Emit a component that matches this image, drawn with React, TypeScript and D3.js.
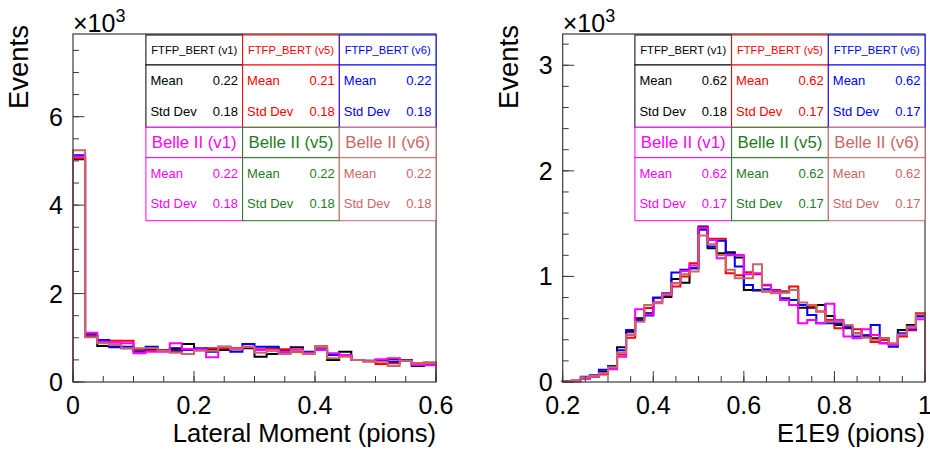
import React from 'react';
import * as d3 from 'd3';

const FONT = "'Liberation Sans', Arial, Helvetica, sans-serif";

// Series (drawing order for histograms: v1 black, v5 red, v6 blue, Belle v1 magenta, Belle v6 salmon)
const COL_BLACK = '#000000';
const COL_RED = '#ff0000';
const COL_BLUE = '#0000ff';
const COL_MAGENTA = '#ff00ff';
const COL_GREEN = '#1f7a1f';
const COL_SALMON = '#cc6666';

const FTFP_NAMES = ['FTFP_BERT (v1)', 'FTFP_BERT (v5)', 'FTFP_BERT (v6)'];
const BELLE_NAMES = ['Belle II (v1)', 'Belle II (v5)', 'Belle II (v6)'];
const FTFP_COLORS = [COL_BLACK, COL_RED, COL_BLUE];
const BELLE_COLORS = [COL_MAGENTA, COL_GREEN, COL_SALMON];

// ---- Left panel: Lateral Moment (pions), 30 bins 0..0.6
const LM_X_DOMAIN = [0, 0.6];
const LM_Y_MAX = 7870;
const LM_BIN_WIDTH = 0.02;
const LM_BLACK = [5040, 1040, 814, 798, 761, 738, 738, 723, 761, 859, 723, 723, 723, 738, 761, 573, 633, 723, 784, 663, 723, 497, 686, 497, 470, 482, 512, 490, 362, 437];
const LM_RED = [5062, 1062, 912, 934, 934, 723, 708, 723, 686, 738, 723, 761, 761, 761, 798, 738, 761, 738, 686, 633, 798, 633, 588, 497, 470, 407, 422, 482, 422, 437];
const LM_BLUE = [5130, 1085, 949, 784, 798, 686, 798, 708, 723, 723, 761, 686, 798, 686, 859, 798, 798, 686, 723, 686, 738, 610, 588, 497, 482, 497, 460, 497, 384, 384];
const LM_MAGENTA = [5100, 1115, 912, 889, 874, 648, 686, 686, 874, 738, 738, 558, 784, 738, 784, 723, 708, 686, 738, 663, 723, 648, 610, 497, 482, 512, 535, 482, 384, 377];
const LM_SALMON = [5243, 1010, 874, 836, 761, 761, 761, 708, 663, 633, 708, 708, 798, 738, 798, 663, 723, 633, 708, 633, 814, 535, 573, 497, 470, 460, 362, 482, 422, 422];
const LM_FTFP_MEAN = ['0.22', '0.21', '0.22'];
const LM_FTFP_STD = ['0.18', '0.18', '0.18'];
const LM_BELLE_MEAN = ['0.22', '0.22', '0.22'];
const LM_BELLE_STD = ['0.18', '0.18', '0.18'];
const LM_X_TICKS = [0, 0.2, 0.4, 0.6];
const LM_Y_TICKS = [0, 2000, 4000, 6000];
const LM_Y_TICK_LABELS = ['0', '2', '4', '6'];

// ---- Right panel: E1E9 (pions), 40 bins 0.2..1.0
const E9_X_DOMAIN = [0.2, 1.0];
const E9_Y_MAX = 3296;
const E9_BIN_WIDTH = 0.02;
const E9_BLACK = [8, 10, 40, 60, 100, 150, 330, 477, 604, 650, 795, 806, 975, 940, 1078, 1473, 1267, 1220, 1229, 1178, 872, 866, 916, 872, 856, 872, 704, 704, 730, 625, 540, 509, 461, 440, 414, 414, 360, 493, 540, 630];
const E9_RED = [5, 6, 30, 50, 70, 130, 260, 420, 590, 700, 795, 838, 904, 1000, 1125, 1457, 1356, 1356, 1030, 1010, 1040, 1020, 856, 856, 847, 904, 730, 714, 667, 588, 509, 518, 500, 446, 380, 398, 360, 430, 490, 651];
const E9_BLUE = [8, 15, 50, 65, 115, 150, 300, 493, 584, 630, 800, 838, 1036, 1062, 1078, 1441, 1283, 1337, 1210, 1093, 919, 872, 878, 872, 793, 777, 730, 635, 556, 556, 556, 518, 430, 440, 540, 367, 335, 461, 500, 620];
const E9_MAGENTA = [5, 4, 35, 55, 85, 120, 240, 450, 689, 640, 755, 822, 936, 1052, 1104, 1463, 1346, 1172, 1200, 1204, 1021, 1030, 920, 866, 777, 730, 556, 588, 556, 740, 588, 430, 414, 500, 446, 367, 350, 445, 509, 594];
const E9_SALMON = [8, 10, 45, 60, 80, 140, 280, 446, 571, 730, 745, 830, 936, 1020, 1046, 1387, 1305, 1204, 1062, 983, 983, 1115, 856, 841, 847, 872, 752, 730, 667, 572, 572, 540, 461, 420, 400, 414, 367, 450, 525, 640];
const E9_FTFP_MEAN = ['0.62', '0.62', '0.62'];
const E9_FTFP_STD = ['0.18', '0.17', '0.17'];
const E9_BELLE_MEAN = ['0.62', '0.62', '0.62'];
const E9_BELLE_STD = ['0.17', '0.17', '0.17'];
const E9_X_TICKS = [0.2, 0.4, 0.6, 0.8, 1.0];
const E9_X_TICK_LABELS = ['0.2', '0.4', '0.6', '0.8', '1'];
const E9_Y_TICKS = [0, 1000, 2000, 3000];
const E9_Y_TICK_LABELS = ['0', '1', '2', '3'];

const W = 930;
const H = 451;
const AXIS_COL = '#3a3a3a';

type PanelProps = {
  x0: number; x1: number; y0: number; y1: number;
  xDomain: number[]; yMax: number; binWidth: number;
  series: { values: number[]; color: string }[];
  xTicks: number[]; xTickLabels: string[]; xMinorStep: number;
  yTicks: number[]; yTickLabels: string[]; yMinorStep: number;
  xTitle: string;
  ftfpMean: string[]; ftfpStd: string[]; belleMean: string[]; belleStd: string[];
};

function Panel(p: PanelProps) {
  const x = d3.scaleLinear().domain(p.xDomain).range([p.x0, p.x1]);
  const y = d3.scaleLinear().domain([0, p.yMax]).range([p.y1, p.y0]);
  const line = d3.line<[number, number]>().x(d => d[0]).y(d => d[1]);

  const histPath = (values: number[]) => {
    const pts: [number, number][] = [];
    const lo = p.xDomain[0];
    pts.push([x(lo), y(0)]);
    values.forEach((v, i) => {
      pts.push([x(lo + i * p.binWidth), y(v)]);
      pts.push([x(lo + (i + 1) * p.binWidth), y(v)]);
    });
    pts.push([x(lo + values.length * p.binWidth), y(0)]);
    return line(pts) || '';
  };

  const xMinor = d3.range(p.xDomain[0], p.xDomain[1] + 1e-9, p.xMinorStep);
  const yMinor = d3.range(0, p.yMax + 1e-9, p.yMinorStep);

  // stat boxes
  const colW = (p.x1 - p.x0) * 0 + 96.7;
  const boxRight = p.x1;
  const boxLeft = boxRight - 3 * colW;
  const rows = [p.y0 + 1, p.y0 + 31, p.y0 + 93.3, p.y0 + 123.7, p.y0 + 186.7];
  const fs = 13;

  const cells: React.ReactNode[] = [];
  for (let c = 0; c < 3; c++) {
    const cx0 = boxLeft + c * colW;
    const cx1 = cx0 + colW;
    const fc = FTFP_COLORS[c];
    const bc = BELLE_COLORS[c];
    // FTFP header + stats
    cells.push(
      <g key={'f' + c}>
        <rect x={cx0} y={rows[0]} width={colW} height={rows[1] - rows[0]} fill="#fff" stroke={fc} strokeWidth={1} />
        <rect x={cx0} y={rows[1]} width={colW} height={rows[2] - rows[1]} fill="#fff" stroke={fc} strokeWidth={1} />
        <text x={(cx0 + cx1) / 2} y={rows[0] + 19} fill={fc} fontSize={11.2} textAnchor="middle">{FTFP_NAMES[c]}</text>
        <text x={cx0 + 4.5} y={rows[1] + 20} fill={fc} fontSize={fs}>Mean</text>
        <text x={cx1 - 4.5} y={rows[1] + 20} fill={fc} fontSize={fs} textAnchor="end">{p.ftfpMean[c]}</text>
        <text x={cx0 + 4.5} y={rows[1] + 51} fill={fc} fontSize={fs}>Std Dev</text>
        <text x={cx1 - 4.5} y={rows[1] + 51} fill={fc} fontSize={fs} textAnchor="end">{p.ftfpStd[c]}</text>
      </g>
    );
    cells.push(
      <g key={'b' + c}>
        <rect x={cx0} y={rows[2]} width={colW} height={rows[3] - rows[2]} fill="#fff" stroke={bc} strokeWidth={1} />
        <rect x={cx0} y={rows[3]} width={colW} height={rows[4] - rows[3]} fill="#fff" stroke={bc} strokeWidth={1} />
        <text x={(cx0 + cx1) / 2} y={rows[2] + 21} fill={bc} fontSize={16.8} textAnchor="middle">{BELLE_NAMES[c]}</text>
        <text x={cx0 + 4.5} y={rows[3] + 20} fill={bc} fontSize={fs}>Mean</text>
        <text x={cx1 - 4.5} y={rows[3] + 20} fill={bc} fontSize={fs} textAnchor="end">{p.belleMean[c]}</text>
        <text x={cx0 + 4.5} y={rows[3] + 50.5} fill={bc} fontSize={fs}>Std Dev</text>
        <text x={cx1 - 4.5} y={rows[3] + 50.5} fill={bc} fontSize={fs} textAnchor="end">{p.belleStd[c]}</text>
      </g>
    );
  }

  return (
    <g fontFamily={FONT}>
      {/* histograms */}
      <g fill="none" strokeWidth={2}>
        {p.series.map((s, i) => (
          <path key={i} d={histPath(s.values)} stroke={s.color} />
        ))}
      </g>
      {/* frame */}
      <rect x={p.x0} y={p.y0} width={p.x1 - p.x0} height={p.y1 - p.y0} fill="none" stroke={AXIS_COL} strokeWidth={1.2} />
      {/* x ticks */}
      <g stroke={AXIS_COL} strokeWidth={1}>
        {xMinor.map((v, i) => (
          <line key={'xm' + i} x1={x(v)} x2={x(v)} y1={p.y1} y2={p.y1 - 6} />
        ))}
        {p.xTicks.map((v, i) => (
          <line key={'xM' + i} x1={x(v)} x2={x(v)} y1={p.y1} y2={p.y1 - 11} />
        ))}
        {yMinor.map((v, i) => (
          <line key={'ym' + i} x1={p.x0} x2={p.x0 + 6} y1={y(v)} y2={y(v)} />
        ))}
        {p.yTicks.map((v, i) => (
          <line key={'yM' + i} x1={p.x0} x2={p.x0 + 11.5} y1={y(v)} y2={y(v)} />
        ))}
      </g>
      {/* tick labels */}
      <g fontSize={25} fill="#000">
        {p.xTicks.map((v, i) => (
          <text key={'xl' + i} x={x(v)} y={414} textAnchor="middle">{p.xTickLabels[i]}</text>
        ))}
        {p.yTicks.map((v, i) => (
          <text key={'yl' + i} x={p.x0 - 10} y={y(v) + 9} textAnchor="end">{p.yTickLabels[i]}</text>
        ))}
      </g>
      {/* multiplier */}
      <text x={p.x0} y={31.5} fontSize={25} fill="#000">×10</text>
      <text x={p.x0 + 42.5} y={22} fontSize={18} fill="#000">3</text>
      {/* axis titles */}
      <text x={p.x1} y={442} fontSize={25.6} textAnchor="end" fill="#000">{p.xTitle}</text>
      <text transform={`translate(${p.x0 - 45},25) rotate(-90)`} fontSize={27.5} textAnchor="end" fill="#000">Events</text>
      {/* stat boxes */}
      <g>{cells}</g>
    </g>
  );
}

export default function App() {
  const lmSeries = [
    { values: LM_BLACK, color: COL_BLACK },
    { values: LM_RED, color: COL_RED },
    { values: LM_BLUE, color: COL_BLUE },
    { values: LM_MAGENTA, color: COL_MAGENTA },
    { values: LM_SALMON, color: COL_SALMON },
  ];
  const e9Series = [
    { values: E9_BLACK, color: COL_BLACK },
    { values: E9_RED, color: COL_RED },
    { values: E9_BLUE, color: COL_BLUE },
    { values: E9_MAGENTA, color: COL_MAGENTA },
    { values: E9_SALMON, color: COL_SALMON },
  ];
  return (
    <svg width={W} height={H} style={{ position: 'absolute', left: 0, top: 0, background: '#fff' }}>
      <rect x={0} y={0} width={W} height={H} fill="#fff" />
      <Panel
        x0={73} x1={436} y0={34} y1={382}
        xDomain={LM_X_DOMAIN} yMax={LM_Y_MAX} binWidth={LM_BIN_WIDTH}
        series={lmSeries}
        xTicks={LM_X_TICKS} xTickLabels={LM_X_TICKS.map(v => (v === 0 ? '0' : String(v)))} xMinorStep={0.05}
        yTicks={LM_Y_TICKS} yTickLabels={LM_Y_TICK_LABELS} yMinorStep={500}
        xTitle="Lateral Moment (pions)"
        ftfpMean={LM_FTFP_MEAN} ftfpStd={LM_FTFP_STD} belleMean={LM_BELLE_MEAN} belleStd={LM_BELLE_STD}
      />
      <Panel
        x0={562.7} x1={925} y0={34} y1={382}
        xDomain={E9_X_DOMAIN} yMax={E9_Y_MAX} binWidth={E9_BIN_WIDTH}
        series={e9Series}
        xTicks={E9_X_TICKS} xTickLabels={E9_X_TICK_LABELS} xMinorStep={0.05}
        yTicks={E9_Y_TICKS} yTickLabels={E9_Y_TICK_LABELS} yMinorStep={200}
        xTitle="E1E9 (pions)"
        ftfpMean={E9_FTFP_MEAN} ftfpStd={E9_FTFP_STD} belleMean={E9_BELLE_MEAN} belleStd={E9_BELLE_STD}
      />
    </svg>
  );
}
